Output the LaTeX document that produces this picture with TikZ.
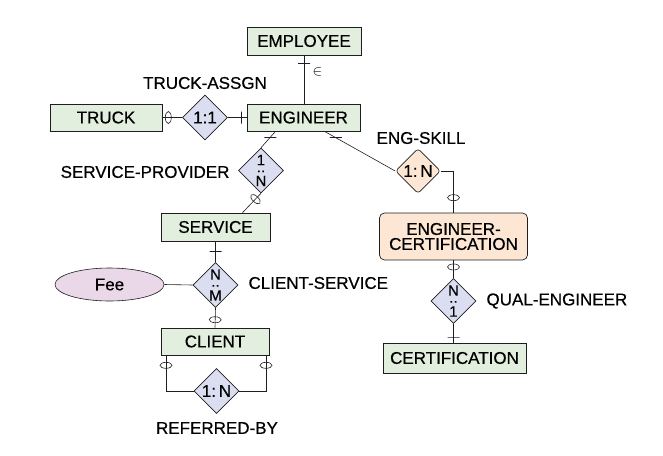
\documentclass[tikz,border=0pt]{standalone}
\usepackage{fontspec}
\setmainfont[FakeBold=0.5]{Liberation Sans}
\usetikzlibrary{shapes.geometric,positioning}
\definecolor{entfill}{RGB}{226,238,222}
\definecolor{relfill}{RGB}{218,222,240}
\definecolor{assocfill}{RGB}{253,231,212}
\definecolor{attrfill}{RGB}{234,216,232}
\definecolor{edge}{RGB}{30,30,30}

% cardinalite verticale (haut, deux points, bas)
\newcommand{\vcard}[2]{#1\\[-11pt]..\\[-4pt]#2}

\begin{document}
\begin{tikzpicture}[x=1pt, y=-1pt,
    every node/.style={font=\fontsize{17}{20}\selectfont},
    entity/.style={draw=edge, fill=entfill, line width=0.7pt, minimum height=27, inner sep=0},
    rel/.style={diamond, aspect=1, draw=edge, fill=relfill, line width=0.6pt,
        minimum width=45, minimum height=45, inner sep=0, align=center},
    vrel/.style={rel, font=\fontsize{15}{18}\selectfont},
    conn/.style={draw=edge, line width=0.6pt},
    bar/.style={draw=edge, sloped, line width=0.6pt, minimum width=0, minimum height=12, inner sep=0},
    hbar/.style={draw=edge, line width=0.6pt, minimum width=12, minimum height=0, inner sep=0},
    opt/.style={ellipse, draw=edge, sloped, line width=0.6pt, minimum width=6, minimum height=12, inner sep=0}]

    \useasboundingbox (0,0) rectangle (663,455);

    % Entites
    \node[entity, minimum width=114, minimum height=28] (emp) at (304,41) {EMPLOYEE};
    \node[entity, minimum width=113] (eng) at (303.5,117.5) {ENGINEER};
    \node[entity, minimum width=112] (truck) at (106,117.5) {TRUCK};
    \node[entity, minimum width=109, minimum height=28] (svc) at (215.5,227) {SERVICE};
    \node[entity, minimum width=108] (client) at (215,341.5) {CLIENT};
    \node[entity, minimum width=143, minimum height=30] (cert) at (454.5,358) {CERTIFICATION};
    \node[entity, fill=assocfill, rounded corners=5, align=center, minimum width=148, minimum height=47]
        (ec) at (453.5,236.5) {ENGINEER-\\[-5pt]CERTIFICATION};

    % Attribut
    \node[ellipse, draw=edge, fill=attrfill, line width=0.6pt, minimum width=109, minimum height=33, inner sep=0]
        (fee) at (109.5,284.5) {Fee};

    % Relations
    \node[rel] (ta) at (205,117.5) {1:1};
    \node[vrel] (sp) at (261,170.5) {\vcard{1}{N}};
    \node[rel, fill=assocfill, rounded corners=3] (skill) at (418,171) {1:\,N};
    \node[vrel] (cs) at (215.5,285) {\vcard{N}{M}};
    \node[vrel] (qe) at (453.5,301) {\vcard{N}{1}};
    \node[rel] (rb) at (216.5,391) {1:\,N};

    % Noms des relations
    \node (ta_lbl) at (205,83) {TRUCK-ASSGN};
    \node[anchor=east] (sp_lbl) at (233,172) {SERVICE-PROVIDER};
    \node (skill_lbl) at (421,138) {ENG-SKILL};
    \node[anchor=west] (cs_lbl) at (245,283) {CLIENT-SERVICE};
    \node[anchor=west] (qe_lbl) at (483,301) {QUAL-ENGINEER};
    \node (rb_lbl) at (217,428) {REFERRED-BY};

    % Liens
    \draw[conn] (emp.south) -- node[bar, pos=0.16] {}
        node[pos=0.35, right=5pt, font=\fontsize{14}{15}\selectfont] (emp_in) {$\in$} (emp.south |- eng.north);
    \draw[conn] (truck.east) -- node[opt, pos=0.3] {} (ta.west);
    \draw[conn] (ta.east) -- node[bar, pos=0.74] {} (eng.west);
    \draw[conn] ([xshift=-28]eng.south) -- node[hbar, pos=0.35] {} (sp.north);
    \draw[conn] ([xshift=21]eng.south) -- node[hbar, pos=0.16] {} (skill.west);
    \draw[conn] (skill.east) -| node[opt, pos=0.82] {} (ec.north);
    \draw[conn] (ec.south) -- node[opt, pos=0.37] {} (qe.north);
    \draw[conn] (qe.south) -- node[bar, pos=0.7] {} (qe.south |- cert.north);
    \draw[conn] (sp.south) -- node[opt, pos=0.3] {} ([xshift=27]svc.north);
    \draw[conn] (svc.south) -- node[bar, pos=0.48] {} (cs.north);
    \draw[conn] (fee.east) -- (cs.west);
    \draw[conn] (cs.south) -- node[opt, pos=0.6] {} (client.north);
    \draw[conn] ([xshift=-49]client.south) |- node[opt, pos=0.14] {} (rb.west);
    \draw[conn] ([xshift=51]client.south) |- node[opt, pos=0.14] {} (rb.east);

\end{tikzpicture}
\end{document}
